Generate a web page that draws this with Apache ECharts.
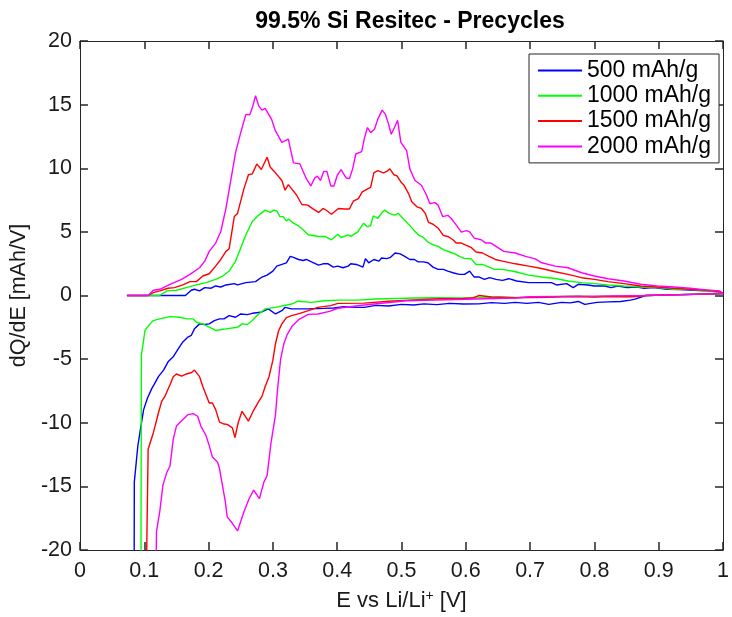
<!DOCTYPE html>
<html>
<head>
<meta charset="utf-8">
<title>99.5% Si Resitec - Precycles</title>
<script src="https://cdn.jsdelivr.net/npm/echarts@6/dist/echarts.min.js"></script>
<style>
  html, body { margin: 0; padding: 0; background: #fff; }
  #res { width: 732px; height: 617px; }
</style>
</head>
<body>
<div id="res"></div>
<script>
// E vs Li/Li+ [V] and dQ/dE [mAh/V] for each precycle capacity
// charge branch first (positive), then discharge (negative) down past the axis
var names = ['500 mAh/g', '1000 mAh/g', '1500 mAh/g', '2000 mAh/g'];
var colors = ['#0000ff', '#00ff00', '#ff0000', '#ff00ff'];

var e500 = [0.073,0.164,0.173,0.178,0.186,0.194,0.204,0.211,0.219,0.227,0.240,0.245,0.258,0.273,0.283,0.291,0.300,0.306,0.314,0.321,0.327,0.332,0.340,0.347,0.352,0.360,0.371,0.378,0.386,0.394,0.401,0.409,0.417,0.421,0.430,0.440,0.444,0.449,0.457,0.465,0.469,0.477,0.483,0.490,0.498,0.505,0.513,0.520,0.526,0.534,0.541,0.549,0.557,0.565,0.572,0.580,0.590,0.598,0.606,0.613,0.621,0.629,0.637,0.647,0.657,0.667,0.679,0.698,0.718,0.733,0.741,0.757,0.767,0.775,0.790,0.800,0.816,0.826,0.836,0.851,0.867,0.877,0.892,0.913,0.933,0.954,0.974,0.995,
  1.000,0.997,0.880,0.863,0.856,0.841,0.822,0.804,0.785,0.775,0.762,0.749,0.729,0.713,0.695,0.677,0.660,0.640,0.620,0.596,0.575,0.555,0.535,0.519,0.500,0.480,0.460,0.442,0.432,0.410,0.395,0.380,0.355,0.329,0.319,0.314,0.304,0.293,0.281,0.268,0.260,0.250,0.242,0.232,0.224,0.217,0.209,0.201,0.194,0.186,0.178,0.173,0.168,0.160,0.153,0.145,0.137,0.130,0.122,0.115,0.112,0.105,0.099,0.094,0.090,0.0845,0.084];
var q500 = [0,0,0.41,0.49,0.36,0.62,0.57,0.75,0.67,0.83,0.93,0.83,1.01,1.09,1.45,1.60,1.92,2.31,2.44,2.57,3.08,3.00,2.83,2.75,2.83,2.64,2.39,2.49,2.49,2.23,2.31,2.18,2.31,2.49,2.44,2.23,2.90,2.57,2.83,2.70,2.95,2.90,3.00,3.34,3.27,3.08,2.83,2.83,2.64,2.64,2.57,2.23,2.05,2.05,1.92,1.79,1.66,1.66,1.92,1.45,1.45,1.27,1.40,1.27,1.19,1.32,1.14,1.01,1.01,1.01,0.83,0.93,0.62,0.88,0.83,0.75,0.75,0.62,0.75,0.62,0.67,0.57,0.62,0.49,0.47,0.41,0.36,0.28,
  0.15,0,0,-0.28,-0.36,-0.47,-0.50,-0.54,-0.70,-0.47,-0.58,-0.54,-0.70,-0.54,-0.62,-0.54,-0.62,-0.56,-0.66,-0.67,-0.62,-0.72,-0.66,-0.75,-0.70,-0.82,-0.78,-0.93,-0.93,-0.88,-0.98,-1.01,-1.05,-1.05,-0.93,-1.19,-1.45,-1.05,-1.32,-1.40,-1.50,-1.45,-1.71,-1.58,-1.84,-1.84,-1.97,-2.23,-2.28,-2.23,-2.62,-3.14,-3.27,-3.65,-4.17,-4.82,-5.21,-5.86,-6.38,-7.02,-7.28,-8.06,-8.97,-10.52,-11.82,-14.67,-30];

var e1000 = [0.073,0.124,0.135,0.150,0.165,0.181,0.196,0.211,0.222,0.232,0.242,0.250,0.258,0.268,0.278,0.288,0.291,0.296,0.301,0.306,0.311,0.316,0.321,0.325,0.332,0.339,0.347,0.355,0.371,0.381,0.391,0.401,0.406,0.417,0.421,0.432,0.441,0.447,0.452,0.456,0.463,0.470,0.474,0.481,0.489,0.495,0.503,0.512,0.520,0.526,0.534,0.541,0.549,0.557,0.565,0.575,0.583,0.590,0.598,0.608,0.616,0.626,0.636,0.645,0.657,0.677,0.698,0.718,0.739,0.759,0.780,0.800,0.821,0.846,0.872,0.898,0.923,0.949,0.974,0.995,
  1.000,0.997,0.880,0.850,0.820,0.800,0.775,0.750,0.725,0.700,0.677,0.650,0.620,0.600,0.555,0.520,0.493,0.460,0.432,0.401,0.380,0.360,0.339,0.329,0.304,0.288,0.278,0.268,0.260,0.252,0.245,0.227,0.211,0.201,0.191,0.181,0.176,0.166,0.155,0.140,0.124,0.114,0.109,0.101,0.099,0.0955,0.0945];
var q1000 = [0,0,0.36,0.41,0.62,0.83,1.01,1.27,1.53,1.92,2.70,3.73,4.77,5.81,6.32,6.71,6.79,6.53,6.71,6.66,6.20,6.20,5.86,6.00,5.68,5.50,5.16,4.77,4.64,4.64,4.38,4.82,4.56,4.77,4.64,5.00,5.68,5.40,5.50,6.25,6.07,6.53,6.71,6.45,6.32,6.45,6.02,5.55,5.08,4.77,4.56,4.20,3.99,3.86,3.60,3.42,3.27,3.08,2.90,2.90,2.44,2.44,2.23,2.05,2.05,1.87,1.60,1.45,1.34,1.14,1.01,0.93,0.83,0.75,0.67,0.62,0.49,0.47,0.36,0.28,
  0.15,0,0,-0.08,-0.05,-0.10,-0.06,-0.08,-0.12,-0.13,-0.16,-0.12,-0.18,-0.20,-0.18,-0.20,-0.23,-0.28,-0.36,-0.36,-0.41,-0.54,-0.45,-0.67,-0.93,-1.05,-1.45,-1.97,-2.28,-2.23,-2.49,-2.62,-2.75,-2.49,-2.23,-2.10,-1.84,-1.84,-1.71,-1.66,-1.84,-1.97,-2.23,-2.75,-3.50,-4.69,-30];

var e1500 = [0.073,0.106,0.114,0.124,0.137,0.147,0.160,0.171,0.181,0.191,0.201,0.211,0.219,0.227,0.232,0.240,0.245,0.255,0.262,0.268,0.275,0.282,0.291,0.296,0.304,0.314,0.319,0.324,0.329,0.337,0.345,0.354,0.363,0.371,0.378,0.383,0.391,0.394,0.402,0.411,0.419,0.425,0.433,0.439,0.448,0.452,0.457,0.463,0.472,0.477,0.482,0.488,0.493,0.499,0.504,0.511,0.516,0.524,0.531,0.537,0.542,0.549,0.557,0.565,0.572,0.580,0.585,0.593,0.601,0.608,0.616,0.626,0.636,0.646,0.657,0.677,0.698,0.718,0.739,0.759,0.780,0.800,0.821,0.846,0.872,0.898,0.923,0.949,0.974,0.995,
  1.000,0.997,0.880,0.860,0.830,0.800,0.775,0.750,0.725,0.700,0.677,0.640,0.621,0.610,0.596,0.560,0.519,0.480,0.442,0.401,0.390,0.370,0.355,0.342,0.329,0.321,0.314,0.309,0.304,0.300,0.294,0.288,0.283,0.278,0.270,0.262,0.252,0.246,0.241,0.237,0.229,0.224,0.217,0.211,0.206,0.201,0.196,0.191,0.186,0.178,0.173,0.165,0.158,0.150,0.145,0.140,0.132,0.127,0.122,0.114,0.106,0.103,0.101];
var q1500 = [0,0,0.23,0.36,0.57,0.62,0.83,1.09,1.09,1.53,1.71,2.31,2.83,3.47,3.68,6.20,6.45,8.40,9.49,9.56,10.34,9.90,10.86,10.08,9.64,9.04,8.27,8.71,8.40,7.88,7.15,7.10,6.79,6.53,6.84,6.70,6.38,6.50,6.84,6.80,6.80,7.41,7.62,8.14,8.40,8.50,9.64,9.82,9.64,9.75,9.95,9.49,9.40,8.92,8.66,8.01,7.36,6.97,6.84,6.45,5.75,5.60,5.29,4.72,4.64,4.38,4.12,4.12,3.94,3.79,3.42,3.34,3.08,2.83,2.70,2.49,2.31,2.12,1.87,1.66,1.40,1.27,1.09,0.93,0.75,0.67,0.57,0.49,0.41,0.31,
  0.15,0,0,-0.10,-0.08,-0.13,-0.08,-0.10,-0.14,-0.16,-0.18,-0.12,0.00,-0.20,-0.23,-0.26,-0.34,-0.45,-0.60,-0.62,-0.80,-0.93,-1.19,-1.40,-1.58,-1.74,-2.23,-2.75,-3.79,-5.08,-6.38,-7.15,-7.93,-8.32,-9.02,-9.88,-9.10,-10.00,-11.17,-10.40,-10.13,-10.10,-9.95,-8.97,-8.45,-8.45,-7.80,-7.15,-6.38,-5.86,-6.07,-6.17,-6.33,-6.17,-6.38,-7.02,-7.93,-8.32,-9.23,-10.80,-12.08,-12.20,-30];

var e2000 = [0.073,0.106,0.114,0.124,0.140,0.158,0.171,0.186,0.194,0.201,0.211,0.219,0.227,0.235,0.242,0.250,0.258,0.264,0.268,0.273,0.278,0.283,0.288,0.298,0.304,0.314,0.324,0.332,0.342,0.352,0.359,0.365,0.369,0.374,0.379,0.384,0.390,0.395,0.400,0.406,0.414,0.419,0.424,0.429,0.438,0.442,0.447,0.452,0.458,0.463,0.470,0.475,0.480,0.484,0.489,0.494,0.499,0.508,0.513,0.521,0.531,0.539,0.544,0.552,0.557,0.564,0.572,0.577,0.585,0.593,0.601,0.606,0.613,0.624,0.631,0.639,0.647,0.659,0.677,0.693,0.708,0.718,0.739,0.759,0.780,0.800,0.821,0.846,0.872,0.898,0.923,0.949,0.974,0.995,
  1.000,0.997,0.880,0.800,0.700,0.677,0.600,0.508,0.442,0.401,0.388,0.370,0.355,0.340,0.330,0.322,0.317,0.312,0.307,0.304,0.297,0.291,0.286,0.279,0.270,0.263,0.255,0.245,0.237,0.229,0.226,0.217,0.214,0.206,0.201,0.196,0.188,0.183,0.176,0.168,0.163,0.155,0.150,0.145,0.140,0.135,0.129,0.124,0.119,0.116];
var q2000 = [0,0,0.41,0.49,0.88,1.27,1.66,2.18,2.70,3.47,4.12,5.03,6.84,9.18,11.25,12.80,14.23,14.20,14.75,15.70,14.90,14.57,14.70,13.84,12.93,12.03,12.29,10.42,10.34,9.18,8.61,9.23,9.38,9.04,9.75,9.75,8.61,8.61,9.43,9.90,9.23,9.18,9.95,11.12,11.30,12.29,13.20,12.80,13.06,13.84,14.57,14.23,13.45,12.67,13.20,13.76,12.03,11.38,9.95,9.04,8.66,7.88,7.23,7.30,7.10,6.20,6.30,6.07,5.55,4.98,5.10,5.00,4.51,4.38,4.12,4.12,3.86,3.47,3.34,3.08,2.88,2.57,2.31,2.18,1.79,1.53,1.32,1.14,0.88,0.75,0.67,0.57,0.44,0.36,
  0.15,0,0,-0.05,-0.10,-0.20,-0.30,-0.41,-0.75,-1.00,-1.25,-1.45,-1.48,-1.90,-2.40,-3.10,-3.80,-5.00,-7.50,-9.40,-11.60,-14.15,-14.67,-15.97,-15.30,-15.97,-17.00,-18.50,-17.90,-17.40,-16.20,-13.60,-13.10,-12.70,-11.80,-11.00,-10.26,-9.49,-9.28,-9.36,-9.60,-10.00,-10.26,-11.30,-13.40,-13.90,-14.90,-17.00,-18.56,-30];

function zip(xs, ys) {
  var out = [];
  for (var i = 0; i < xs.length; i++) out.push([xs[i], ys[i]]);
  return out;
}

var allE = [e500, e1000, e1500, e2000];
var allQ = [q500, q1000, q1500, q2000];

var font = 'Liberation Sans';
var axisColor = '#262626';
var textColor = '#1a1a1a';

var series = [];
for (var i = 0; i < names.length; i++) {
  series.push({
    name: names[i],
    type: 'line',
    data: zip(allE[i], allQ[i]),
    symbol: 'none',
    clip: true,
    lineStyle: { color: colors[i], width: 1.4 },
    itemStyle: { color: colors[i] }
  });
}

function tick() {
  return { show: true, inside: true, length: 8, lineStyle: { color: axisColor, width: 1.5 } };
}

var myChart = echarts.init(document.getElementById('res'));
var option = {
  backgroundColor: '#fff',
  animation: false,
  title: {
    text: '99.5% Si Resitec - Precycles',
    left: 405,
    textAlign: 'center',
    top: 5,
    textStyle: { fontFamily: font, fontSize: 23, fontWeight: 'bold', color: '#000' }
  },
  legend: {
    data: names,
    orient: 'vertical',
    left: 529,
    top: 54,
    padding: [5, 8, 5, 9],
    itemGap: 2.3,
    itemWidth: 44,
    itemHeight: 2,
    icon: 'rect',
    backgroundColor: '#fff',
    borderColor: axisColor,
    borderWidth: 1,
    textStyle: { fontFamily: font, fontSize: 23, color: '#000', lineHeight: 20 }
  },
  grid: { left: 79, right: 2, top: 41, bottom: 62, containLabel: false },
  xAxis: [{
    type: 'value', min: 0, max: 1, interval: 0.1, position: 'bottom',
    axisLine: { onZero: false, lineStyle: { color: axisColor, width: 1 } },
    axisTick: tick(),
    axisLabel: { fontFamily: font, fontSize: 21.5, color: textColor, margin: 10 },
    splitLine: { show: false },
    name: 'E vs Li/Li{sup|+} [V]',
    nameLocation: 'middle',
    nameGap: 39,
    nameTextStyle: {
      fontFamily: font, fontSize: 22, color: textColor,
      rich: { sup: { fontFamily: font, fontSize: 14, verticalAlign: 'top', lineHeight: 24, color: textColor } }
    }
  }, {
    type: 'value', min: 0, max: 1, interval: 0.1, position: 'top',
    axisLine: { onZero: false, lineStyle: { color: axisColor, width: 1 } },
    axisTick: tick(),
    axisLabel: { show: false },
    splitLine: { show: false }
  }],
  yAxis: [{
    type: 'value', min: -20, max: 20, interval: 5, position: 'left',
    axisLine: { show: true, onZero: false, lineStyle: { color: axisColor, width: 1 } },
    axisTick: tick(),
    axisLabel: { fontFamily: font, fontSize: 21.5, color: textColor, margin: 8 },
    splitLine: { show: false },
    name: 'dQ/dE [mAh/V]',
    nameLocation: 'middle',
    nameRotate: 90,
    nameGap: 46,
    nameTextStyle: { fontFamily: font, fontSize: 21.5, color: textColor }
  }, {
    type: 'value', min: -20, max: 20, interval: 5, position: 'right',
    axisLine: { show: true, onZero: false, lineStyle: { color: axisColor, width: 1 } },
    axisTick: tick(),
    axisLabel: { show: false },
    splitLine: { show: false }
  }],
  series: series
};
myChart.setOption(option);
</script>
</body>
</html>
